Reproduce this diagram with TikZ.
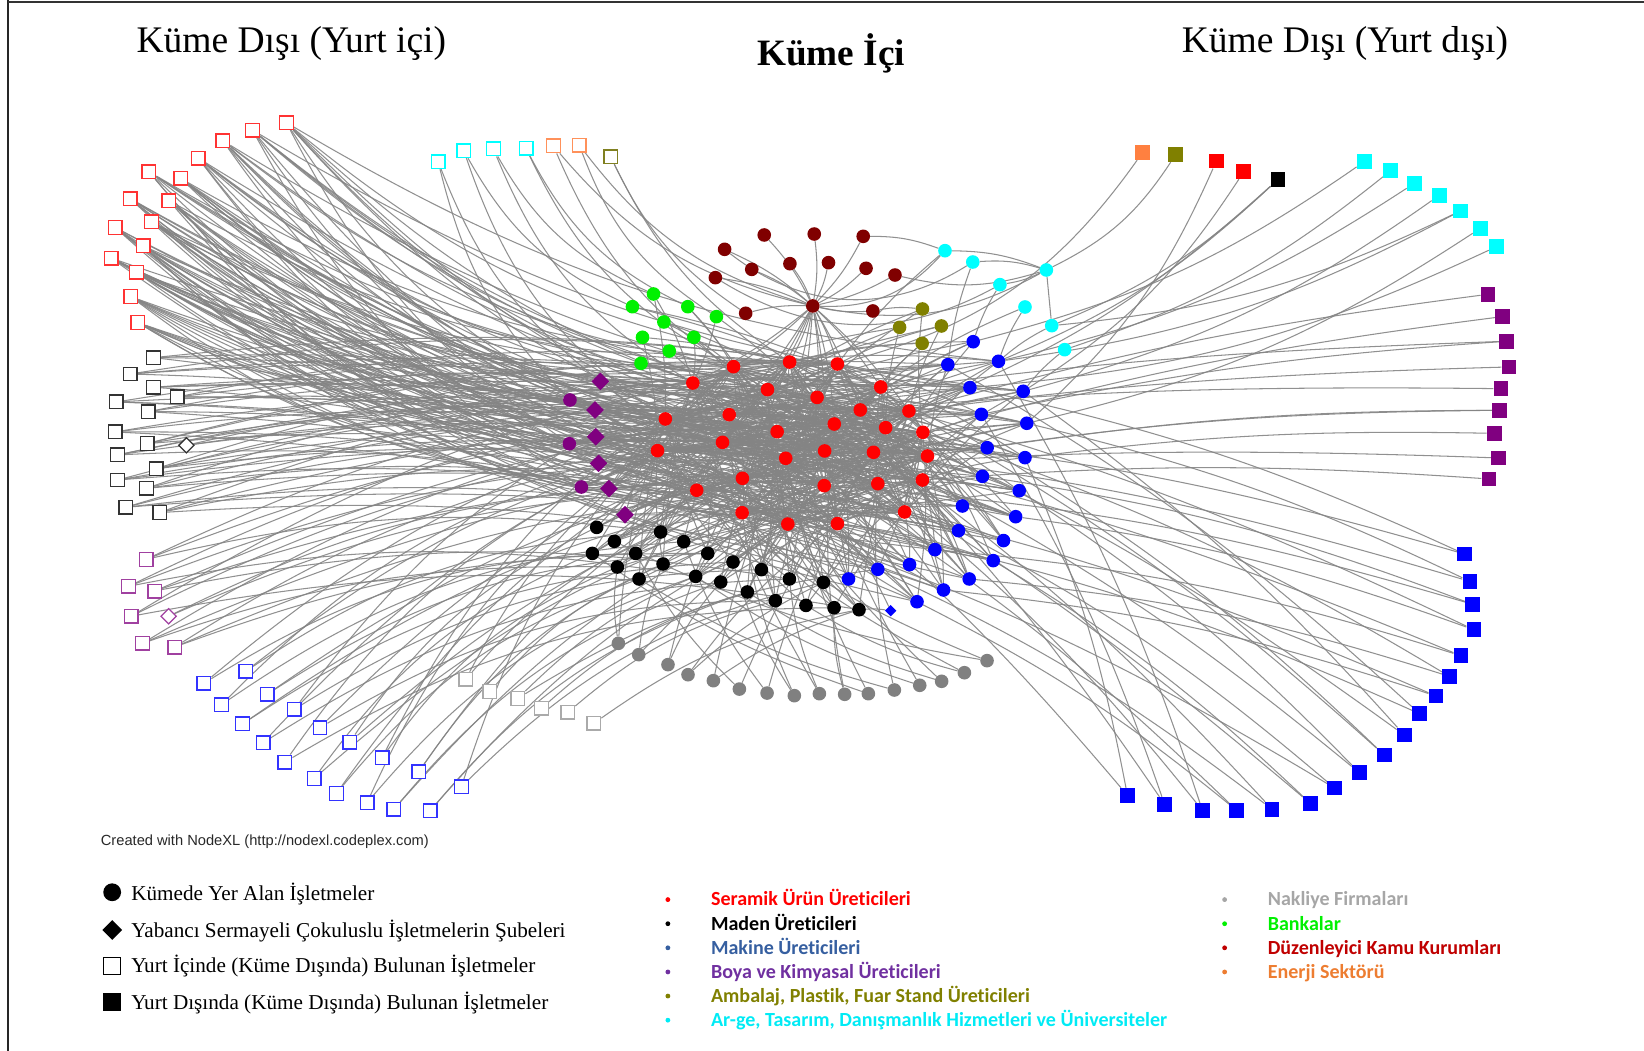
\documentclass[tikz,border=0pt]{standalone}
\usepackage{fontspec}
\setmainfont{Liberation Serif}
\newfontfamily\calfont[Ligatures=NoCommon]{Carlito}
\newfontfamily\arialfont{Liberation Sans}
\usetikzlibrary{shapes.geometric}
\pgfdeclarelayer{edges}
\pgfsetlayers{edges,main}

% node colours
\definecolor{cRed}{RGB}{255,0,0}
\definecolor{hRed}{RGB}{255,51,51}
\definecolor{cDark}{RGB}{128,0,0}
\definecolor{cGreen}{RGB}{0,240,0}
\definecolor{cOlive}{RGB}{128,128,0}
\definecolor{cCyan}{RGB}{0,255,255}
\definecolor{cBlue}{RGB}{0,0,255}
\definecolor{cPurple}{RGB}{128,0,128}
\definecolor{cGray}{RGB}{128,128,128}
\definecolor{cOrange}{RGB}{255,128,64}
\definecolor{hBlack}{RGB}{51,51,51}
\definecolor{hPurple}{RGB}{160,64,160}
\definecolor{hBlue}{RGB}{51,51,255}
\definecolor{hGray}{RGB}{170,170,170}
\definecolor{hOrange}{RGB}{255,145,90}
\definecolor{hOlive}{RGB}{128,128,32}
\definecolor{edgeGray}{RGB}{132,132,132}
% legend text colours
\definecolor{tBlue}{RGB}{54,95,160}
\definecolor{tPurple}{RGB}{112,48,160}
\definecolor{tOlive}{RGB}{128,128,0}
\definecolor{tCyan}{RGB}{0,235,245}
\definecolor{tGray}{RGB}{166,166,166}
\definecolor{tGreen}{RGB}{0,240,0}
\definecolor{tDark}{RGB}{192,0,0}
\definecolor{tOrange}{RGB}{237,125,49}
\definecolor{tCredit}{RGB}{40,40,40}

\tikzset{
  dot/.style={circle, fill=#1, draw=none, minimum size=13pt, inner sep=0pt},
  hsq/.style={rectangle, draw=#1, fill=white, line width=1.3pt, minimum size=13pt, inner sep=0pt},
  fsq/.style={rectangle, fill=#1, draw=none, minimum size=14pt, inner sep=0pt},
  fdia/.style={diamond, fill=#1, draw=none, minimum size=17pt, inner sep=0pt},
  hdia/.style={diamond, draw=#1, fill=white, line width=1.2pt, minimum size=15pt, inner sep=0pt},
  edge/.style={draw=edgeGray, line width=1pt, opacity=0.9},
  title/.style={anchor=base west, inner sep=0pt, font=\fontsize{35.8}{40}\selectfont},
  legtext/.style={anchor=base west, inner sep=0pt, font=\fontsize{20.2}{24}\selectfont},
  caltext/.style={anchor=base west, inner sep=0pt, text=#1, font=\calfont\bfseries\fontsize{19.1}{22}\selectfont},
  bul/.style={circle, fill=#1, draw=none, minimum size=4.6pt, inner sep=0pt},
}

\begin{document}
\begin{tikzpicture}[x=1pt,y=1pt]
\useasboundingbox (0,0) rectangle (1568,-1002);

% frame
\draw[line width=2pt, black!85] (7.6,0) -- (7.6,-1002);
\draw[line width=2.5pt, black!80] (7.6,-2) -- (1568,-2);

% titles
\node[title] (tl) at (130,-50) {Küme Dışı (Yurt içi)};
\node[title, font=\fontsize{35.5}{40}\selectfont\bfseries] (tc) at (722,-62) {Küme İçi};
\node[title] (tr) at (1127,-50) {Küme Dışı (Yurt dışı)};

% ---------- in-cluster firms ----------
\foreach \n/\x/\y in {1/699.6/349.7, 2/753.1/345.3, 3/798.7/347.2, 4/660.8/365.3, 5/732.0/371.6,
  6/779.3/379.0, 7/840.0/369.1, 8/634.6/399.6, 9/695.5/395.5, 10/741.2/411.7, 11/795.7/404.4,
  12/820.5/391.0, 13/866.9/392.0, 14/844.7/407.9, 15/880.2/412.3, 16/627.1/429.8, 17/689.1/421.9,
  18/749.4/437.1, 19/786.5/430.1, 20/833.1/431.4, 21/884.6/434.9, 22/708.1/456.2, 23/664.5/467.6,
  24/786.1/463.2, 25/837.2/461.3, 26/879.8/457.8, 27/707.8/489.0, 28/751.4/499.8, 29/798.7/499.4,
  30/862.8/488.3}
  \node[dot=cRed] (r\n) at (\x,-\y) {};

\foreach \n/\x/\y in {1/928.2/325.9, 2/904.0/347.8, 3/952.3/344.6, 4/925.1/369.7, 5/975.9/373.2,
  6/936.0/395.2, 7/979.3/403.7, 8/941.5/427.0, 9/977.6/436.5, 10/937.0/454.3, 11/972.1/468.0,
  12/917.9/482.6, 13/968.7/492.8, 14/914.2/506.1, 15/957.1/515.6, 16/891.7/524.2, 17/947.3/534.7,
  18/867.5/538.5, 19/924.4/552.2, 20/837.2/543.0, 21/809.3/552.2, 22/899.9/562.7, 23/874.6/573.9}
  \node[dot=cBlue] (b\n) at (\x,-\y) {};
\node[fdia=cBlue, minimum size=11pt] (bd) at (849.5,-582.4) {};

\foreach \n/\x/\y in {1/569.1/503.0, 2/586.0/516.3, 3/565.0/527.8, 4/606.3/527.8, 5/588.8/540.8,
  6/630.1/507.4, 7/609.5/552.2, 8/652.1/516.6, 9/632.4/537.9, 10/675.0/527.8, 11/663.5/549.7,
  12/699.1/536.0, 13/687.4/555.1, 14/726.2/543.3, 15/712.8/564.6, 16/752.9/552.2, 17/785.3/555.4,
  18/739.5/572.9, 19/768.7/577.4, 20/795.5/579.6, 21/819.3/581.5}
  \node[dot=black] (k\n) at (\x,-\y) {};

\foreach \n/\x/\y in {1/589.8/613.6, 2/609.2/624.4, 3/637.1/633.9, 4/656.2/643.5, 5/680.4/649.2,
  6/705.2/657.2, 7/731.6/661.0, 8/757.6/663.5, 9/781.5/661.6, 10/805.6/662.2, 11/828.2/661.6,
  12/853.0/658.1, 13/877.2/653.6, 14/898.1/649.8, 15/919.8/641.6, 16/941.4/630.1}
  \node[dot=cGray] (g\n) at (\x,-\y) {};

\foreach \n/\x/\y in {1/728.9/224.1, 2/776.6/223.2, 3/823.3/225.4, 4/691.1/237.8, 5/717.0/256.9,
  6/753.4/251.5, 7/790.2/250.5, 8/826.0/255.9, 9/682.3/264.8, 10/853.6/262.3, 11/775.2/291.8,
  12/711.2/298.8, 13/832.5/296.6}
  \node[dot=cDark] (dr\n) at (\x,-\y) {};

\foreach \n/\x/\y in {1/623.3/280.4, 2/603.2/292.5, 3/656.0/292.5, 4/633.2/307.1, 5/683.3/302.0,
  6/612.8/321.7, 7/661.8/321.7, 8/638.3/334.8, 9/611.4/346.5}
  \node[dot=cGreen] (gr\n) at (\x,-\y) {};

\foreach \n/\x/\y in {1/879.8/294.7, 2/858.0/312.2, 3/897.9/310.9, 4/879.5/327.5}
  \node[dot=cOlive] (ol\n) at (\x,-\y) {};

\foreach \n/\x/\y in {1/901.3/239.1, 2/927.8/249.9, 3/998.0/257.5, 4/953.7/271.5, 5/977.6/292.8,
  6/1003.1/310.6, 7/1015.4/333.5}
  \node[dot=cCyan] (cy\n) at (\x,-\y) {};

\foreach \n/\x/\y in {1/543.6/381.5, 2/543.0/423.2, 3/554.5/464.5}
  \node[dot=cPurple] (pc\n) at (\x,-\y) {};
\foreach \n/\x/\y in {1/572.6/363.7, 2/567.5/391.0, 3/568.2/416.5, 4/570.9/441.9, 5/580.8/466.0,
  6/596.1/490.9}
  \node[fdia=cPurple] (pd\n) at (\x,-\y) {};

% ---------- domestic firms outside the cluster ----------
\foreach \n/\x/\y in {1/273.2/117.0, 2/240.8/124.0, 3/212.5/134.2, 4/189.0/150.7, 5/142.0/163.7,
  6/172.3/170.1, 7/124.3/189.5, 8/161.1/191.4, 9/144.4/211.7, 10/110.0/217.1, 11/136.6/234.6,
  12/105.9/246.1, 13/130.1/259.7, 14/124.7/282.9, 15/131.5/307.7}
  \node[hsq=hRed] (LR\n) at (\x,-\y) {};

\foreach \n/\x/\y in {1/146.5/341.1, 2/124.0/356.7, 3/146.5/369.4, 4/168.9/378.6, 5/110.7/383.4,
  6/141.4/392.6, 7/109.7/412.0, 8/140.3/423.1, 9/112.1/433.9, 10/148.9/447.0, 11/112.1/457.8,
  12/139.7/465.7, 13/119.9/483.8, 14/152.3/488.9}
  \node[hsq=hBlack] (LK\n) at (\x,-\y) {};
\node[hdia=hBlack] (LKd) at (177.8,-424.7) {};

\foreach \n/\x/\y in {1/139.3/533.5, 2/122.6/559.2, 3/147.5/563.7, 4/125.0/587.8, 5/135.9/613.6,
  6/166.6/617.1}
  \node[hsq=hPurple] (LP\n) at (\x,-\y) {};
\node[hdia=hPurple] (LPd) at (160.8,-587.8) {};

\foreach \n/\x/\y in {1/194.5/651.7, 2/234.3/640.3, 3/211.2/672.1, 4/254.8/662.2, 5/231.3/690.5,
  6/280.7/676.5, 7/251.0/708.3, 8/305.2/694.0, 9/271.8/726.8, 10/333.8/707.7, 11/299.7/742.4,
  12/364.5/722.6, 13/320.9/756.7, 14/399.5/736.0, 15/350.1/765.6, 16/375.7/771.9, 17/410.4/773.2,
  18/440.1/750.3}
  \node[hsq=hBlue] (LB\n) at (\x,-\y) {};

\foreach \n/\x/\y in {1/444.2/647.9, 2/467.3/659.4, 3/493.9/666.1, 4/516.4/675.6, 5/541.6/679.4,
  6/566.4/689.9}
  \node[hsq=hGray] (LG\n) at (\x,-\y) {};

\foreach \n/\x/\y/\c in {1/417.9/154.2/cCyan, 2/442.4/143.7/cCyan, 3/470.7/142.1/cCyan,
  4/501.7/141.5/cCyan, 5/527.9/139.2/hOrange, 6/552.5/138.3/hOrange, 7/582.4/149.4/hOlive}
  \node[hsq=\c] (T\n) at (\x,-\y) {};

% ---------- foreign firms outside the cluster ----------
\node[fsq=cOrange] (RO) at (1089.6,-145.6) {};
\node[fsq=cOlive] (ROl) at (1121.3,-147.5) {};
\node[fsq=cRed] (RR1) at (1160.1,-153.6) {};
\node[fsq=cRed] (RR2) at (1186.3,-163.7) {};
\node[fsq=black] (RK) at (1219.0,-171.0) {};
\foreach \n/\x/\y in {1/1301.1/154.2, 2/1326.3/162.8, 3/1348.8/174.9, 4/1372.7/186.3,
  5/1392.8/201.2, 6/1411.8/217.8, 7/1427.2/235.3}
  \node[fsq=cCyan] (RC\n) at (\x,-\y) {};
\foreach \n/\x/\y in {1/1419.3/280.7, 2/1432.9/302.0, 3/1437.0/325.5, 4/1439.1/350.0,
  5/1431.6/370.7, 6/1430.2/391.3, 7/1425.1/413.3, 8/1429.5/436.8, 9/1420.0/456.8}
  \node[fsq=cPurple] (RP\n) at (\x,-\y) {};
\foreach \n/\x/\y in {1/1396.8/528.4, 2/1401.9/554.5, 3/1404.7/576.4, 4/1405.7/600.6,
  5/1393.4/625.4, 6/1382.5/645.1, 7/1369.6/663.8, 8/1353.9/680.7, 9/1339.3/701.0, 10/1320.2/720.1,
  11/1296.4/736.9, 12/1272.9/751.6, 13/1249.7/766.2, 14/1213.3/771.9, 15/1179.5/772.9,
  16/1146.8/772.9, 17/1110.7/767.1, 18/1075.3/758.6}
  \node[fsq=cBlue] (RB\n) at (\x,-\y) {};

% ---------- ties ----------
\begin{pgfonlayer}{edges}
% domestic red firms into the core
\foreach \i in {1,...,15}{
  \foreach \k in {1,...,5}{
    \pgfmathtruncatemacro\t{mod(3*\i+7*\k,30)+1}
    \draw[edge] (LR\i) to[bend right=14] (r\t);
  }
  \pgfmathtruncatemacro\t{mod(2*\i,23)+1}
  \draw[edge] (LR\i) to[bend right=12] (b\t);
  \pgfmathtruncatemacro\t{mod(\i,6)+1}
  \draw[edge] (LR\i) to[bend right=14] (pd\t);
  \pgfmathtruncatemacro\t{mod(\i,3)+1}
  \draw[edge] (LR\i) to[bend right=14] (pc\t);
}
% domestic black firms
\foreach \i in {1,...,14}{
  \foreach \k in {1,2,3}{
    \pgfmathtruncatemacro\t{mod(5*\i+11*\k,30)+1}
    \draw[edge] (LK\i) to[bend left=8] (r\t);
  }
  \pgfmathtruncatemacro\t{mod(3*\i,23)+1}
  \draw[edge] (LK\i) to[bend left=8] (b\t);
}
\draw[edge] (LKd) to[bend left=8] (pd2);
\draw[edge] (LKd) to[bend left=8] (r17);
% domestic purple firms
\foreach \i in {1,...,6}{
  \pgfmathtruncatemacro\t{mod(4*\i,30)+1}
  \draw[edge] (LP\i) to[bend left=10] (r\t);
  \pgfmathtruncatemacro\t{mod(5*\i,21)+1}
  \draw[edge] (LP\i) to[bend left=10] (k\t);
  \pgfmathtruncatemacro\t{mod(7*\i+3,30)+1}
  \draw[edge] (LP\i) to[bend left=10] (r\t);
}
\draw[edge] (LPd) to[bend left=10] (pd5);
\draw[edge] (LPd) to[bend left=10] (r23);
% domestic blue firms
\foreach \i in {1,...,18}{
  \pgfmathtruncatemacro\t{mod(2*\i+1,21)+1}
  \draw[edge] (LB\i) to[bend left=15] (k\t);
  \pgfmathtruncatemacro\t{mod(5*\i,30)+1}
  \draw[edge] (LB\i) to[bend left=15] (r\t);
}
% domestic transport firms
\foreach \i in {1,...,6}{
  \pgfmathtruncatemacro\t{mod(3*\i+2,21)+1}
  \draw[edge] (LG\i) to[bend left=12] (k\t);
}
\draw[edge] (LG1) to[bend left=12] (r16);
\draw[edge] (LG3) to[bend left=12] (b20);
% top row of domestic firms
\draw[edge] (T1) to[bend right=15] (pd1);
\draw[edge] (T1) to[bend right=15] (pc1);
\draw[edge] (T2) to[bend right=18] (gr2);
\draw[edge] (T2) to[bend right=18] (r8);
\draw[edge] (T3) to[bend right=18] (gr1);
\draw[edge] (T3) to[bend right=18] (r4);
\draw[edge] (T4) to[bend right=18] (gr3);
\draw[edge] (T4) to[bend right=18] (r1);
\draw[edge] (T5) to[bend right=18] (dr11);
\draw[edge] (T5) to[bend right=18] (r5);
\draw[edge] (T6) to[bend right=18] (dr11);
\draw[edge] (T6) to[bend right=18] (gr5);
\draw[edge] (T7) to[bend right=15] (r2);
\draw[edge] (T7) to[bend right=15] (dr12);
% foreign firms, top right
\draw[edge] (RO) to[bend left=20] (r3);
\draw[edge] (ROl) to[bend left=15] (cy3);
\draw[edge] (RR1) to[bend left=12] (b7);
\draw[edge] (RR2) to[bend left=12] (b5);
\draw[edge] (RK) to[bend left=10] (cy6);
\draw[edge] (RK) to[bend left=10] (b3);
\draw[edge] (RK) to[bend left=10] (r13);
\draw[edge] (RC1) to[bend left=10] (b1);
\draw[edge] (RC2) to[bend left=10] (cy7);
\draw[edge] (RC3) to[bend left=10] (b3);
\draw[edge] (RC4) to[bend left=10] (b5);
\draw[edge] (RC5) to[bend left=10] (b3);
\draw[edge] (RC5) to[bend left=10] (cy6);
\draw[edge] (RC6) to[bend left=10] (b7);
\draw[edge] (RC7) to[bend left=10] (b4);
% foreign chemical firms
\draw[edge] (RP1) to[bend right=4] (r13);
\draw[edge] (RP2) to[bend right=4] (r15);
\draw[edge] (RP3) to[bend right=4] (pd3);
\draw[edge] (RP3) to[bend right=4] (b6);
\draw[edge] (RP4) to[bend right=4] (r16);
\draw[edge] (RP5) to[bend right=4] (pc2);
\draw[edge] (RP6) to[bend right=4] (r21);
\draw[edge] (RP6) to[bend right=4] (b8);
\draw[edge] (RP7) to[bend right=4] (b9);
\draw[edge] (RP8) to[bend right=4] (pd5);
\draw[edge] (RP9) to[bend right=4] (r26);
% foreign machinery firms
\foreach \i in {1,...,18}{
  \pgfmathtruncatemacro\t{mod(3*\i,23)+1}
  \draw[edge] (RB\i) to[bend right=6] (b\t);
  \pgfmathtruncatemacro\t{mod(7*\i+2,30)+1}
  \draw[edge] (RB\i) to[bend right=6] (r\t);
}
% public bodies: star around the hub
\foreach \i in {1,...,10,12,13}
  \draw[edge] (dr\i) to[bend left=8] (dr11);
\foreach \t in {1,2,3,4,5,6,7,9,10,11,12,13,17,18,19}
  \draw[edge] (dr11) to[bend left=6] (r\t);
\draw[edge] (dr11) to[bend right=25] (cy1);
\draw[edge] (dr11) to[bend right=20] (cy3);
\draw[edge] (dr10) to[bend right=15] (cy3);
\draw[edge] (dr4) to[bend right=35] (cy2);
\draw[edge] (dr3) to[bend left=10] (cy1);
\draw[edge] (dr9) to[bend right=30] (cy4);
\draw[edge] (dr13) to[bend left=8] (ol1);
% research and design bodies
\draw[edge] (cy1) to[bend left=10] (cy3);
\draw[edge] (cy2) to[bend left=10] (cy3);
\draw[edge] (cy3) to (cy6);
\draw[edge] (cy3) to[bend left=8] (cy4);
\draw[edge] (cy4) to[bend right=6] (b1);
\draw[edge] (cy5) to[bend right=6] (b3);
\draw[edge] (cy6) to[bend right=6] (b3);
\draw[edge] (cy7) to[bend right=6] (b5);
\draw[edge] (cy2) to[bend right=6] (b2);
\draw[edge] (cy5) to[bend right=6] (r7);
\draw[edge] (cy1) to[bend right=6] (r3);
% banks
\foreach \i in {1,...,9}{
  \pgfmathtruncatemacro\t{mod(3*\i,12)+1}
  \draw[edge] (gr\i) to[bend left=6] (r\t);
  \pgfmathtruncatemacro\t{mod(5*\i+2,17)+1}
  \draw[edge] (gr\i) to[bend left=6] (r\t);
}
% packaging firms
\foreach \i in {1,...,4}{
  \foreach \k in {1,2,3}{
    \pgfmathtruncatemacro\t{mod(4*\i+5*\k,15)+1}
    \draw[edge] (ol\i) to[bend right=6] (r\t);
  }
}
% chemical firms in the cluster
\foreach \i in {1,2,3}{
  \foreach \k in {1,...,6}{
    \pgfmathtruncatemacro\t{mod(7*\i+5*\k,30)+1}
    \draw[edge] (pc\i) to[bend left=6] (r\t);
  }
  \foreach \k in {1,2,3}{
    \pgfmathtruncatemacro\t{mod(5*\i+7*\k,23)+1}
    \draw[edge] (pc\i) to[bend left=4] (b\t);
  }
}
\foreach \i in {1,...,6}{
  \foreach \k in {1,...,6}{
    \pgfmathtruncatemacro\t{mod(5*\i+7*\k,30)+1}
    \draw[edge] (pd\i) to[bend left=6] (r\t);
  }
  \foreach \k in {1,2}{
    \pgfmathtruncatemacro\t{mod(4*\i+9*\k,23)+1}
    \draw[edge] (pd\i) to[bend right=4] (b\t);
  }
}
% mining firms
\foreach \i in {1,...,21}{
  \foreach \k in {1,...,4}{
    \pgfmathtruncatemacro\t{mod(4*\i+9*\k,30)+1}
    \draw[edge] (k\i) to[bend left=6] (r\t);
  }
}
% transport firms in the cluster
\foreach \i in {1,...,16}{
  \pgfmathtruncatemacro\t{mod(4*\i,21)+1}
  \draw[edge] (g\i) to[bend left=8] (k\t);
  \pgfmathtruncatemacro\t{mod(7*\i,30)+1}
  \draw[edge] (g\i) to[bend left=8] (r\t);
}
% machinery firms in the cluster
\foreach \i in {1,...,23}{
  \foreach \k in {1,...,5}{
    \pgfmathtruncatemacro\t{mod(3*\i+7*\k,30)+1}
    \draw[edge] (b\i) to[bend right=6] (r\t);
  }
}
\draw[edge] (bd) to[bend right=6] (r29);
\draw[edge] (bd) to[bend right=6] (k21);
% ceramics producers among themselves
\foreach \i in {1,...,30}{
  \foreach \s in {1,2,4,6,9,11,14}{
    \pgfmathtruncatemacro\t{mod(\i+\s,30)+1}
    \draw[edge] (r\i) to[bend left=6] (r\t);
  }
}
\end{pgfonlayer}

% ---------- credit and legends ----------
\node[anchor=base west, inner sep=0pt, text=tCredit, font=\arialfont\fontsize{14}{16}\selectfont] (credit)
  at (96,-806) {Created with NodeXL (http://nodexl.codeplex.com)};

\node[circle, fill=black, minimum size=17pt, inner sep=0pt] (lgA) at (107,-851) {};
\node[diamond, fill=black, minimum size=19pt, inner sep=0pt] (lgB) at (107,-887) {};
\node[rectangle, draw=black, line width=1pt, fill=white, minimum size=16pt, inner sep=0pt] (lgC) at (107,-921) {};
\node[rectangle, fill=black, minimum size=17pt, inner sep=0pt] (lgD) at (107,-956) {};
\node[legtext] (ltA) at (125,-859) {Kümede Yer Alan İşletmeler};
\node[legtext] (ltB) at (125,-894) {Yabancı Sermayeli Çokuluslu İşletmelerin Şubeleri};
\node[legtext] (ltC) at (125,-928) {Yurt İçinde (Küme Dışında) Bulunan İşletmeler};
\node[legtext] (ltD) at (125,-963) {Yurt Dışında (Küme Dışında) Bulunan İşletmeler};

\foreach \n/\y/\c/\t in {1/864/cRed/{Seramik Ürün Üreticileri}, 2/887/black/{Maden Üreticileri},
  3/910/tBlue/{Makine Üreticileri}, 4/933/tPurple/{Boya ve Kimyasal Üreticileri},
  5/956/tOlive/{Ambalaj, Plastik, Fuar Stand Üreticileri},
  6/979/tCyan/{Ar-ge, Tasarım, Danışmanlık Hizmetleri ve Üniversiteler}}{
  \node[bul=\c] (ba\n) at (637,-\y+6) {};
  \node[caltext=\c] (sa\n) at (678,-\y) {\t};
}
\foreach \n/\y/\c/\t in {1/864/tGray/{Nakliye Firmaları}, 2/887/tGreen/{Bankalar},
  3/910/tDark/{Düzenleyici Kamu Kurumları}, 4/933/tOrange/{Enerji Sektörü}}{
  \node[bul=\c] (bb\n) at (1168,-\y+6) {};
  \node[caltext=\c] (sb\n) at (1209,-\y) {\t};
}
\end{tikzpicture}
\end{document}
